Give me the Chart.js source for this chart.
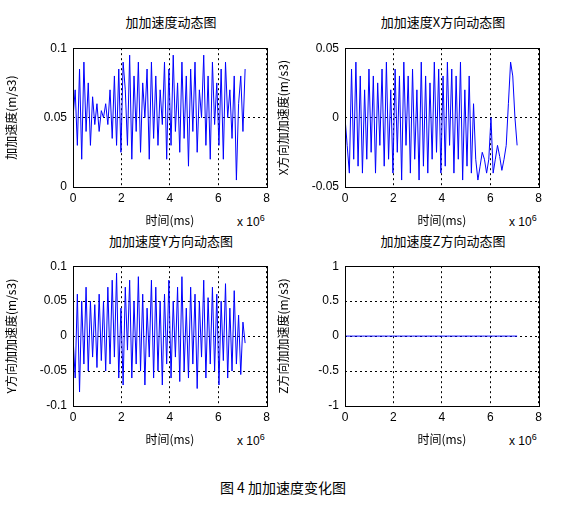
<!DOCTYPE html><html><head><meta charset="utf-8">
<script src="https://cdn.jsdelivr.net/npm/chart.js@4"></script>
<style>body{margin:0;background:#fff;width:570px;height:512px;position:relative;overflow:hidden;font-family:"Noto Sans CJK SC","Liberation Sans",sans-serif}
canvas{position:absolute}.t{position:absolute;font-size:13px;color:#000;white-space:nowrap}</style></head><body>
<div class="t" style="left:73px;width:196px;text-align:center;top:12px">加加速度动态图</div>
<div class="t" style="left:345px;width:196px;text-align:center;top:12px">加加速度X方向动态图</div>
<div class="t" style="left:73px;width:196px;text-align:center;top:231px">加加速度Y方向动态图</div>
<div class="t" style="left:345px;width:196px;text-align:center;top:231px">加加速度Z方向动态图</div>
<div class="t" style="left:237px;top:213px;font-family:'Liberation Sans';font-size:12px">x 10<sup style="font-size:9px">6</sup></div>
<div class="t" style="left:509px;top:213px;font-family:'Liberation Sans';font-size:12px">x 10<sup style="font-size:9px">6</sup></div>
<div class="t" style="left:237px;top:432px;font-family:'Liberation Sans';font-size:12px">x 10<sup style="font-size:9px">6</sup></div>
<div class="t" style="left:509px;top:432px;font-family:'Liberation Sans';font-size:12px">x 10<sup style="font-size:9px">6</sup></div>
<div class="t" style="left:0;width:566px;text-align:center;top:477px;font-size:14px">图 4 加加速度变化图</div>
<canvas id="c1" style="left:0;top:35px" width="274" height="197"></canvas>
<canvas id="c2" style="left:272px;top:35px" width="274" height="197"></canvas>
<canvas id="c3" style="left:0;top:253px" width="274" height="198"></canvas>
<canvas id="c4" style="left:272px;top:253px" width="274" height="198"></canvas>
<script>
const times=[0,0.09,0.18,0.27,0.36,0.45,0.54,0.63,0.72,0.81,
0.90,0.99,1.08,1.17,1.26,1.35,1.44,1.53,1.62,1.71,
1.80,1.89,1.98,2.07,2.16,2.25,2.34,2.43,2.52,2.61,
2.70,2.79,2.88,2.97,3.06,3.15,3.24,3.33,3.42,3.51,
3.60,3.69,3.78,3.87,3.96,4.05,4.14,4.23,4.32,4.41,
4.50,4.59,4.68,4.77,4.86,4.95,5.04,5.13,5.22,5.31,
5.40,5.49,5.58,5.67,5.76,5.85,5.94,6.03,6.12,6.21,
6.30,6.39,6.48,6.57,6.66,6.75,6.84,6.93,7.02,7.11];
const jerk=[0.050,0.070,0.030,0.085,0.020,0.090,0.040,0.075,0.030,0.065,
0.045,0.060,0.040,0.055,0.050,0.060,0.045,0.070,0.035,0.080,
0.030,0.085,0.025,0.090,0.070,0.030,0.095,0.020,0.080,0.040,
0.090,0.025,0.075,0.050,0.085,0.020,0.090,0.035,0.080,0.030,
0.070,0.045,0.090,0.020,0.085,0.030,0.095,0.040,0.075,0.025,
0.090,0.035,0.080,0.015,0.085,0.040,0.090,0.025,0.070,0.050,
0.095,0.030,0.080,0.020,0.090,0.045,0.075,0.030,0.085,0.020,
0.090,0.050,0.070,0.035,0.080,0.005,0.060,0.080,0.040,0.085];
const jerkX=[0.000,-0.020,-0.040,0.035,-0.030,0.040,-0.035,0.030,-0.040,0.020,
-0.030,0.035,-0.025,0.030,-0.040,0.025,-0.020,0.035,-0.035,0.040,
-0.030,0.020,-0.040,0.035,-0.025,0.030,-0.045,0.040,-0.020,0.030,
-0.040,0.035,-0.030,0.020,-0.045,0.040,-0.035,0.030,-0.040,0.025,
-0.030,0.040,-0.025,0.035,-0.040,0.030,-0.035,0.040,-0.020,0.035,
-0.040,0.030,-0.030,0.040,-0.045,0.020,-0.035,0.030,-0.040,0.010,
-0.030,-0.045,-0.035,-0.025,-0.030,-0.040,-0.030,0.000,-0.040,-0.030,
-0.020,-0.028,-0.038,-0.030,-0.020,0.010,0.040,0.030,0.000,-0.020];
const jerkY=[0.000,-0.060,0.060,-0.080,0.050,-0.040,0.070,-0.050,0.050,-0.030,
0.045,-0.045,0.060,-0.035,0.050,-0.050,0.070,-0.040,0.080,-0.030,
0.090,-0.060,0.040,-0.070,0.070,-0.020,0.080,-0.060,0.050,-0.040,
0.085,-0.050,0.060,-0.070,0.040,-0.030,0.080,-0.060,0.070,-0.050,
0.050,-0.070,0.060,-0.040,0.080,-0.060,0.050,-0.030,0.070,-0.065,
0.085,-0.050,0.040,-0.060,0.070,-0.040,0.060,-0.075,0.050,-0.030,
0.080,-0.060,0.055,-0.040,0.070,-0.050,0.060,-0.070,0.050,-0.035,
0.075,-0.060,0.040,-0.050,0.065,-0.040,0.030,-0.055,0.020,-0.010];
const jerkZ=[0,0,0,0,0,0,0,0,0,0, 0,0,0,0,0,0,0,0,0,0, 0,0,0,0,0,0,0,0,0,0, 0,0,0,0,0,0,0,0,0,0,
0,0,0,0,0,0,0,0,0,0, 0,0,0,0,0,0,0,0,0,0, 0,0,0,0,0,0,0,0,0,0, 0,0,0,0,0,0,0,0,0,0];
const xTicks=[0,2,4,6,8];
const boxPlugin={id:'box',afterDraw(c){const a=c.chartArea,x=c.ctx;x.save();x.strokeStyle='#000';x.lineWidth=1;x.setLineDash([]);x.strokeRect(Math.round(a.left)+0.5,Math.round(a.top)+0.5,Math.round(a.right-a.left),Math.round(a.bottom-a.top));x.restore();}};
const tf={family:'Liberation Sans',size:12},cf={family:'Noto Sans CJK SC',size:12};
const fmt=v=>String(+Number(v).toFixed(3));
function mk(id,vals,min,max,step,ytitle){
 new Chart(document.getElementById(id),{type:'line',
  data:{datasets:[{data:times.map((t,i)=>({x:t,y:vals[i]})),borderColor:'#0000ff',borderWidth:1,pointRadius:0,tension:0}]},
  options:{responsive:false,animation:false,events:[],layout:{padding:{top:5,right:5}},
   plugins:{legend:{display:false},tooltip:{enabled:false}},
   scales:{
    x:{type:'linear',min:0,max:8,afterBuildTicks:s=>{s.ticks=xTicks.map(v=>({value:v}));},afterFit:s=>{s.height=45;},
     ticks:{color:'#000',font:tf,padding:4,maxRotation:0,callback:fmt},grid:{color:'#000',drawTicks:false,lineWidth:1},border:{display:false,dash:[2,3]},
     title:{display:true,text:'时间(ms)',color:'#000',font:cf,padding:{top:0}}},
    y:{min:min,max:max,ticks:{stepSize:step,color:'#000',font:tf,padding:6,callback:fmt},afterFit:s=>{s.width=73;},
     grid:{color:'#000',drawTicks:false,lineWidth:1},border:{display:false,dash:[2,3]},
     title:{display:true,text:ytitle,color:'#000',font:cf,padding:{bottom:2}}}}},
  plugins:[boxPlugin]});
}
mk('c1',jerk,0,0.1,0.05,'加加速度(m/s3)');
mk('c2',jerkX,-0.05,0.05,0.05,'X方向加加速度(m/s3)');
mk('c3',jerkY,-0.1,0.1,0.05,'Y方向加加速度(m/s3)');
mk('c4',jerkZ,-1,1,0.5,'Z方向加加速度(m/s3)');
</script></body></html>
